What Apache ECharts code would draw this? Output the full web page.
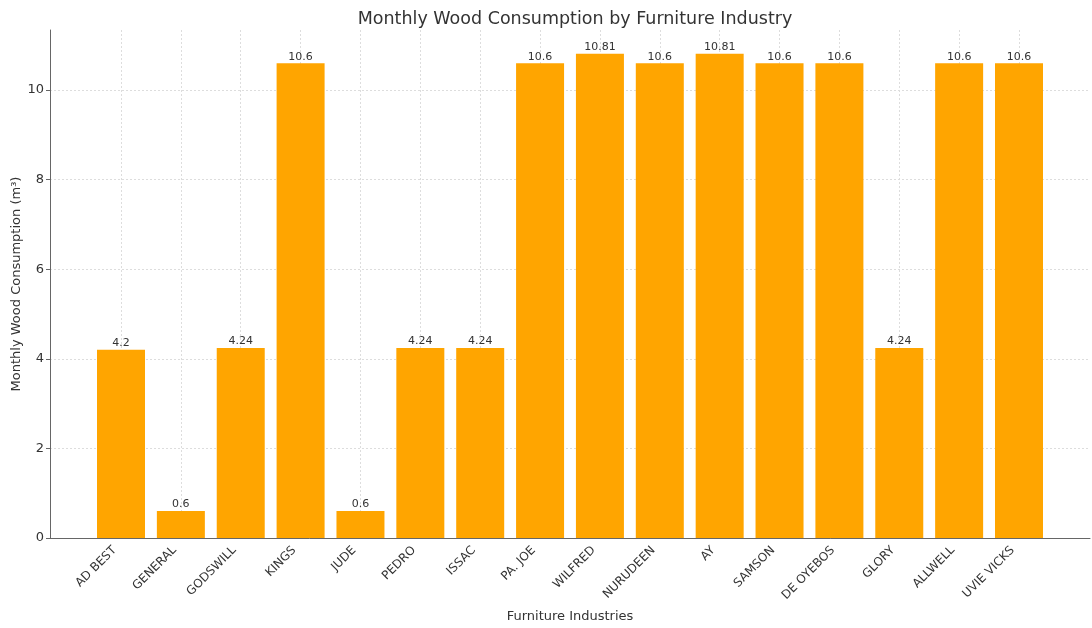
<!DOCTYPE html>
<html><head><meta charset="utf-8">
<script src="https://cdn.jsdelivr.net/npm/echarts@6/dist/echarts.min.js"></script>
<style>html,body{margin:0;padding:0;background:#fff}#c{width:1092px;height:628px}</style>
</head><body><div id="c"></div>
<script>
const categories = ["AD BEST","GENERAL","GODSWILL","KINGS","JUDE","PEDRO","ISSAC","PA. JOE","WILFRED","NURUDEEN","AY","SAMSON","DE OYEBOS","GLORY","ALLWELL","UVIE VICKS"];
const values = [4.2,0.6,4.24,10.6,0.6,4.24,4.24,10.6,10.81,10.6,10.81,10.6,10.6,4.24,10.6,10.6];
const yTicks = [0,2,4,6,8,10];
const yAxisTitle = 'Monthly Wood Consumption (m³)';

const font = "DejaVu Sans";
const grey = '#ddd';
const chart = echarts.init(document.getElementById('c'), null, {renderer:'canvas'});
const isInt = v => Math.abs(v - Math.round(v)) < 1e-6;
const yMax = 11.34;
chart.setOption({
  animation:false,
  backgroundColor:'#fff',
  textStyle:{fontFamily:font},
  title:{text:'Monthly Wood Consumption by Furniture Industry',left:570,top:5,textAlign:'center',
    textStyle:{fontFamily:font,fontSize:17.5,fontWeight:'normal',color:'#333'}},
  graphic:[{type:'text',x:17,y:284,rotation:Math.PI/2,
    style:{text:yAxisTitle,font:'13px "DejaVu Sans"',fill:'#333',textAlign:'center',textVerticalAlign:'middle',align:'center',verticalAlign:'middle'}}],
  grid:[
    {left:50,right:2,top:30,bottom:90,containLabel:false,outerBoundsMode:'none'},
    {left:121,right:73,top:30,bottom:90,containLabel:false,outerBoundsMode:'none'}
  ],
  xAxis:[
    {gridIndex:0,type:'value',min:0,max:1,
      name:'Furniture Industries',nameLocation:'middle',nameGap:72,
      nameTextStyle:{fontFamily:font,fontSize:13,color:'#333'},
      axisLine:{show:true,onZero:false,lineStyle:{color:'#666',width:1}},
      axisTick:{show:false},axisLabel:{show:false},splitLine:{show:false}},
    {gridIndex:1,type:'value',min:0,max:categories.length-1,interval:1,
      axisLine:{show:false},
      axisTick:{show:true,inside:true,length:4,lineStyle:{color:'#666'}},
      axisLabel:{rotate:45,fontFamily:font,fontSize:12,color:'#333',margin:4,padding:[0,9,0,0],
        showMinLabel:true,showMaxLabel:true,
        formatter:v=>{ if(!isInt(v)) return ''; const i=Math.round(v); return (i>=0&&i<categories.length)?categories[i]:''; }},
      splitLine:{show:true,lineStyle:{color:grey,type:[2,2],width:1}}}
  ],
  yAxis:[
    {gridIndex:0,type:'value',min:0,max:yMax,interval:2,
      axisLine:{show:true,onZero:false,lineStyle:{color:'#666',width:1}},
      axisTick:{show:true,length:4,lineStyle:{color:'#666'}},
      axisLabel:{fontFamily:font,fontSize:13,color:'#333',margin:6,showMaxLabel:false,
        formatter:v=>yTicks.includes(v)?String(v):''},
      splitLine:{show:true,lineStyle:{color:[grey,grey,grey,grey,grey,grey,'rgba(0,0,0,0)'],type:[2,2],width:1}}},
    {gridIndex:1,type:'value',min:0,max:yMax,show:false,splitLine:{show:false}}
  ],
  series:[{type:'bar',xAxisIndex:1,yAxisIndex:1,barWidth:48,clip:false,
    data:values.map((v,i)=>[i,v]),
    itemStyle:{color:'#FFA500'},
    label:{show:true,position:'top',distance:1,fontFamily:font,fontSize:11,color:'#333',
      formatter:p=>String(p.value[1])}
  }]
});
</script></body></html>
